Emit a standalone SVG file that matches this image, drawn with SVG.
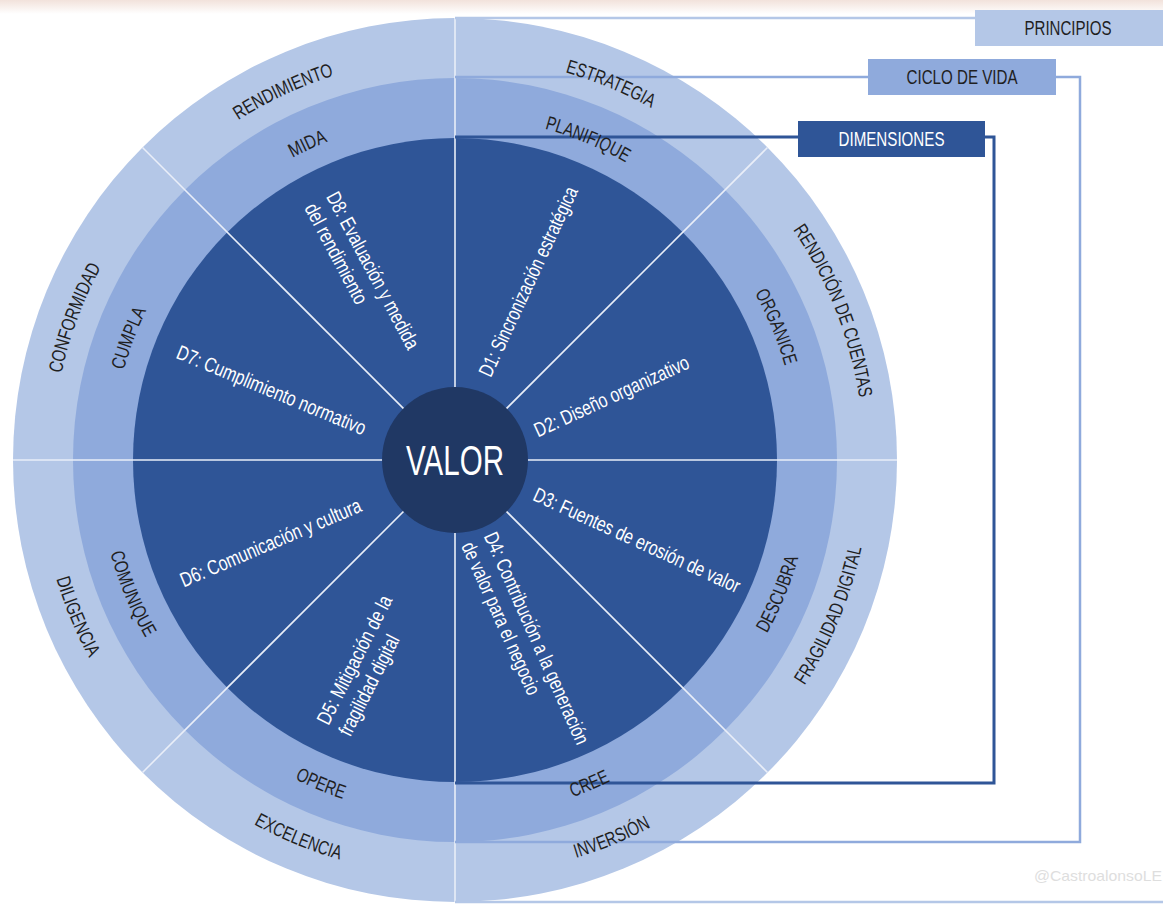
<svg xmlns="http://www.w3.org/2000/svg" width="1163" height="907" viewBox="0 0 1163 907">
<style>
.f{font-family:"Liberation Sans Narrow","Arial Narrow","Liberation Sans",Arial,sans-serif;font-stretch:condensed}
.ring{font-size:19.5px;fill:#1f1f1f}
.dim{font-size:20.5px;fill:#ffffff}
.box{font-size:20px;text-anchor:middle}
.div{stroke:#e9eef8;stroke-width:1.6;fill:none}
.conn{fill:none;stroke-linejoin:miter}
</style>
<defs>
<linearGradient id="topfade" x1="0" y1="0" x2="0" y2="1">
<stop offset="0" stop-color="#f2e2db"/>
<stop offset="1" stop-color="#ffffff"/>
</linearGradient>
<path id="p_rend" d="M106.0,258.5 A403,403 0 0 1 525.0,63.1"/>
<path id="p_estr" d="M367.8,66.5 A403,403 0 0 1 794.9,243.5"/>
<path id="p_rdc" d="M680.7,118.9 A409,409 0 0 1 852.7,555.5"/>
<path id="p_conf" d="M64.9,560.9 A403,403 0 0 1 226.7,127.9"/>
<path id="p_frag" d="M678.5,810.9 A416,416 0 0 0 861.1,370.0"/>
<path id="p_inv" d="M365.0,866.1 A416,416 0 0 0 805.9,683.5"/>
<path id="p_exc" d="M104.1,683.5 A416,416 0 0 0 545.0,866.1"/>
<path id="p_dil" d="M48.9,370.0 A416,416 0 0 0 231.5,810.9"/>
<path id="p_mida" d="M158.0,288.5 A343,343 0 0 1 514.5,122.2"/>
<path id="p_plan" d="M380.8,125.1 A343,343 0 0 1 744.3,275.7"/>
<path id="p_org" d="M639.3,170.7 A343,343 0 0 1 789.9,534.2"/>
<path id="p_cump" d="M122.9,545.9 A343,343 0 0 1 260.7,177.3"/>
<path id="p_desc" d="M646.8,761.1 A357,357 0 0 0 803.5,382.7"/>
<path id="p_cree" d="M377.7,808.5 A357,357 0 0 0 756.1,651.8"/>
<path id="p_oper" d="M153.9,651.8 A357,357 0 0 0 532.3,808.5"/>
<path id="p_comu" d="M106.5,382.7 A357,357 0 0 0 263.2,761.1"/>
</defs>

<rect width="1163" height="907" fill="#ffffff"/>
<rect width="1163" height="14" fill="url(#topfade)"/>

<g id="wheel">
<circle cx="455" cy="460" r="442" fill="#b4c7e7"/>
<circle cx="455" cy="460" r="382" fill="#8faadc"/>
<circle cx="455" cy="460" r="322" fill="#2f5597"/>
</g>

<g id="dividers">
<line class="div" x1="455" y1="18" x2="455" y2="902"/>
<line class="div" x1="13" y1="460" x2="897" y2="460"/>
<line class="div" x1="142.5" y1="147.5" x2="767.5" y2="772.5"/>
<line class="div" x1="767.5" y1="147.5" x2="142.5" y2="772.5"/>
</g>

<g id="connectors">
<polyline class="conn" stroke="#b4c7e7" stroke-width="2.5" points="455,18 975,18"/>
<polyline class="conn" stroke="#b4c7e7" stroke-width="2.5" points="455,902 1163,902"/>
<polyline class="conn" stroke="#8faadc" stroke-width="2.5" points="455,77 868,77"/>
<polyline class="conn" stroke="#8faadc" stroke-width="2.5" points="1056,77 1080,77 1080,842 455,842"/>
<polyline class="conn" stroke="#2f5597" stroke-width="3" points="455,137 798,137"/>
<polyline class="conn" stroke="#2f5597" stroke-width="3" points="985,137 994,137 994,783 455,783"/>
</g>

<g id="valor">
<circle cx="455" cy="460" r="73" fill="#203864"/>
<text class="f" x="455" y="475" font-size="42" fill="#ffffff" text-anchor="middle" textLength="98" lengthAdjust="spacingAndGlyphs">VALOR</text>
</g>

<g id="principios-labels" class="f ring">
<g id="rendimiento"><text><textPath href="#p_rend" startOffset="50%" text-anchor="middle" textLength="106" lengthAdjust="spacingAndGlyphs">RENDIMIENTO</textPath></text></g>
<g id="estrategia"><text><textPath href="#p_estr" startOffset="50%" text-anchor="middle" textLength="93" lengthAdjust="spacingAndGlyphs">ESTRATEGIA</textPath></text></g>
<g id="rendicion"><text><textPath href="#p_rdc" startOffset="50%" text-anchor="middle" textLength="182" lengthAdjust="spacingAndGlyphs">RENDICIÓN DE CUENTAS</textPath></text></g>
<g id="conformidad"><text><textPath href="#p_conf" startOffset="50%" text-anchor="middle" textLength="114" lengthAdjust="spacingAndGlyphs">CONFORMIDAD</textPath></text></g>
<g id="fragilidad"><text><textPath href="#p_frag" startOffset="50%" text-anchor="middle" textLength="150" lengthAdjust="spacingAndGlyphs">FRAGILIDAD DIGITAL</textPath></text></g>
<g id="inversion"><text><textPath href="#p_inv" startOffset="50%" text-anchor="middle" textLength="81" lengthAdjust="spacingAndGlyphs">INVERSIÓN</textPath></text></g>
<g id="excelencia"><text><textPath href="#p_exc" startOffset="50%" text-anchor="middle" textLength="93" lengthAdjust="spacingAndGlyphs">EXCELENCIA</textPath></text></g>
<g id="diligencia"><text><textPath href="#p_dil" startOffset="50%" text-anchor="middle" textLength="86" lengthAdjust="spacingAndGlyphs">DILIGENCIA</textPath></text></g>
</g>

<g id="ciclo-labels" class="f ring">
<g id="mida"><text><textPath href="#p_mida" startOffset="50%" text-anchor="middle" textLength="39" lengthAdjust="spacingAndGlyphs">MIDA</textPath></text></g>
<g id="planifique"><text><textPath href="#p_plan" startOffset="50%" text-anchor="middle" textLength="88" lengthAdjust="spacingAndGlyphs">PLANIFIQUE</textPath></text></g>
<g id="organice"><text><textPath href="#p_org" startOffset="50%" text-anchor="middle" textLength="79" lengthAdjust="spacingAndGlyphs">ORGANICE</textPath></text></g>
<g id="cumpla"><text><textPath href="#p_cump" startOffset="50%" text-anchor="middle" textLength="64" lengthAdjust="spacingAndGlyphs">CUMPLA</textPath></text></g>
<g id="descubra"><text><textPath href="#p_desc" startOffset="50%" text-anchor="middle" textLength="82" lengthAdjust="spacingAndGlyphs">DESCUBRA</textPath></text></g>
<g id="cree"><text><textPath href="#p_cree" startOffset="50%" text-anchor="middle" textLength="41" lengthAdjust="spacingAndGlyphs">CREE</textPath></text></g>
<g id="opere"><text><textPath href="#p_oper" startOffset="50%" text-anchor="middle" textLength="52" lengthAdjust="spacingAndGlyphs">OPERE</textPath></text></g>
<g id="comunique"><text><textPath href="#p_comu" startOffset="50%" text-anchor="middle" textLength="92" lengthAdjust="spacingAndGlyphs">COMUNIQUE</textPath></text></g>
</g>

<g id="dimension-labels" class="f dim">
<g id="d1" transform="translate(528,281.5) rotate(-65)"><text y="7.2" text-anchor="middle" textLength="207" lengthAdjust="spacingAndGlyphs">D1: Sincronización estratégica</text></g>
<g id="d2" transform="translate(611.5,396) rotate(-24.6)"><text y="7.2" text-anchor="middle" textLength="168" lengthAdjust="spacingAndGlyphs">D2: Diseño organizativo</text></g>
<g id="d3" transform="translate(637,540) rotate(24.6)"><text y="7.2" text-anchor="middle" textLength="225" lengthAdjust="spacingAndGlyphs">D3: Fuentes de erosión de valor</text></g>
<g id="d4" transform="translate(490,533) rotate(66)"><text y="7.2" textLength="230" lengthAdjust="spacingAndGlyphs">D4: Contribución a la generación</text><text y="31.7" textLength="165" lengthAdjust="spacingAndGlyphs">de valor para el negocio</text></g>
<g id="d5" transform="translate(322,723) rotate(-63)"><text y="7.2" textLength="142" lengthAdjust="spacingAndGlyphs">D5: Mitigación de la</text><text y="31.7" textLength="110" lengthAdjust="spacingAndGlyphs">fragilidad digital</text></g>
<g id="d6" transform="translate(270.5,542.5) rotate(-23.1)"><text y="7.2" text-anchor="middle" textLength="195" lengthAdjust="spacingAndGlyphs">D6: Comunicación y cultura</text></g>
<g id="d7" transform="translate(271.5,390) rotate(22.5)"><text y="7.2" text-anchor="middle" textLength="203" lengthAdjust="spacingAndGlyphs">D7: Cumplimiento normativo</text></g>
<g id="d8" transform="translate(332,193) rotate(62)"><text y="7.2" textLength="175" lengthAdjust="spacingAndGlyphs">D8: Evaluación y medida</text><text y="31.7" textLength="111" lengthAdjust="spacingAndGlyphs">del rendimiento</text></g>
</g>

<g id="box-principios">
<rect x="975" y="10" width="188" height="36" fill="#b4c7e7"/>
<text class="f box" x="1068" y="35" fill="#1f1f1f" textLength="87" lengthAdjust="spacingAndGlyphs">PRINCIPIOS</text>
</g>
<g id="box-ciclo">
<rect x="868" y="59" width="188" height="36" fill="#8faadc"/>
<text class="f box" x="962" y="84" fill="#1f1f1f" textLength="111" lengthAdjust="spacingAndGlyphs">CICLO DE VIDA</text>
</g>
<g id="box-dimensiones">
<rect x="798" y="121" width="187" height="36" fill="#2f5597"/>
<text class="f box" x="891.5" y="146" fill="#ffffff" textLength="106" lengthAdjust="spacingAndGlyphs">DIMENSIONES</text>
</g>

<text class="f" x="1162" y="881" font-size="15" fill="#dedede" text-anchor="end" textLength="128" lengthAdjust="spacingAndGlyphs">@CastroalonsoLE</text>
</svg>
